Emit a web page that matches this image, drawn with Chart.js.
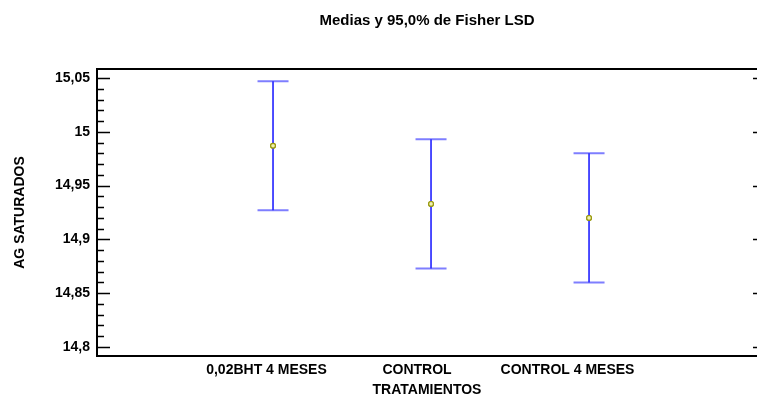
<!DOCTYPE html>
<html>
<head>
<meta charset="utf-8">
<script src="https://cdn.jsdelivr.net/npm/chart.js@4.4.1/dist/chart.umd.min.js"></script>
<style>
  html, body { margin: 0; padding: 0; background: #ffffff; }
  #wrap { width: 757px; height: 396px; }
</style>
</head>
<body>
<div id="wrap"><canvas id="c" width="757" height="396"></canvas></div>
<script>
// Treatments and their Fisher LSD intervals (95,0%)
const categories = ['0,02BHT 4 MESES', 'CONTROL', 'CONTROL 4 MESES'];
const means = [14.987, 14.933, 14.920];
const lower = [14.927, 14.873, 14.860];
const upper = [15.047, 14.993, 14.980];

// Y axis tick values and their labels
const yTickValues = [14.8, 14.85, 14.9, 14.95, 15.0, 15.05];
const yTickLabels = ['14,8', '14,85', '14,9', '14,95', '15', '15,05'];
const yMinorStep = 0.01;

const FONT = { family: '"Liberation Sans", Arial, sans-serif', size: 14, weight: 'bold' };

// Frame, ticks and I-shaped interval bars
const frameAndBars = {
  id: 'frameAndBars',
  afterDatasetsDraw(chart) {
    const { ctx, chartArea: a, scales } = chart;
    const x = scales.x, y = scales.y;
    ctx.save();

    // interval bars
    for (let i = 0; i < means.length; i++) {
      const px = x.getPixelForValue(i + 1);
      const pTop = y.getPixelForValue(upper[i]);
      const pBot = y.getPixelForValue(lower[i]);
      ctx.strokeStyle = '#2222ff';
      ctx.lineWidth = 1.6;
      ctx.beginPath();
      ctx.moveTo(px, pTop);
      ctx.lineTo(px, pBot);
      ctx.stroke();
      ctx.strokeStyle = 'rgba(40,40,255,0.6)';
      ctx.lineWidth = 2;
      ctx.beginPath();
      ctx.moveTo(px - 15.5, pTop); ctx.lineTo(px + 15.5, pTop);
      ctx.moveTo(px - 15.5, pBot); ctx.lineTo(px + 15.5, pBot);
      ctx.stroke();
    }
    // redraw the mean markers above the bars
    const meta = chart.getDatasetMeta(0);
    meta.data.forEach(el => el.draw(ctx, a));

    // frame: left, top and bottom
    ctx.strokeStyle = '#000';
    ctx.lineWidth = 2;
    ctx.beginPath();
    ctx.moveTo(a.right, a.top); ctx.lineTo(a.left, a.top);
    ctx.lineTo(a.left, a.bottom); ctx.lineTo(a.right, a.bottom);
    ctx.stroke();

    // left major/minor ticks and right major ticks
    ctx.lineWidth = 1.5;
    ctx.beginPath();
    const lo = yTickValues[0], hi = yTickValues[yTickValues.length - 1];
    const n = Math.round((hi - lo) / yMinorStep);
    for (let k = 0; k <= n; k++) {
      const v = lo + k * yMinorStep;
      const py = Math.round(y.getPixelForValue(v)) + 0.5;
      const major = k % 5 === 0;
      ctx.moveTo(a.left, py);
      ctx.lineTo(a.left + (major ? 13 : 7), py);
      if (major) {
        ctx.moveTo(a.right - 4, py);
        ctx.lineTo(a.right, py);
      }
    }
    ctx.stroke();
    ctx.restore();
  }
};

new Chart(document.getElementById('c'), {
  type: 'scatter',
  data: {
    datasets: [{
      data: means.map((m, i) => ({ x: i + 1, y: m })),
      pointStyle: 'circle',
      pointRadius: 2.4,
      pointBorderWidth: 1.2,
      pointBorderColor: '#9a9a10',
      pointBackgroundColor: '#f0f0b0'
    }]
  },
  options: {
    responsive: false,
    animation: false,
    events: [],
    layout: { autoPadding: false, padding: { left: 0, right: 0, top: 0, bottom: 0 } },
    plugins: {
      legend: { display: false },
      tooltip: { enabled: false },
      title: {
        display: true,
        fullSize: false,
        text: 'Medias y 95,0% de Fisher LSD',
        color: '#000',
        font: { family: FONT.family, size: 15, weight: 'bold' },
        padding: { top: 12, bottom: 39 }
      }
    },
    scales: {
      x: {
        type: 'linear',
        position: 'bottom',
        min: -0.114,
        max: 4.063,
        display: false
      },
      xl: {
        type: 'linear',
        position: 'bottom',
        min: -0.126,
        max: 4.259,
        afterBuildTicks(s) { s.ticks = categories.map((_, i) => ({ value: i + 1 })); },
        afterFit(s) { s.height = 40; s.paddingLeft = 0; s.paddingRight = 0; },
        border: { display: false },
        grid: { display: false, drawTicks: false },
        ticks: {
          color: '#000',
          font: FONT,
          padding: 6,
          maxRotation: 0,
          autoSkip: false,
          callback: (v) => categories[Math.round(v) - 1] || ''
        },
        title: {
          display: true,
          text: 'TRATAMIENTOS',
          color: '#000',
          font: FONT,
          padding: { top: 0, bottom: -3 }
        }
      },
      y: {
        type: 'linear',
        position: 'left',
        min: 14.7916,
        max: 15.0584,
        afterBuildTicks(s) { s.ticks = yTickValues.map(v => ({ value: v })); },
        afterFit(s) { s.width = 97; },
        border: { display: false },
        grid: { display: false, drawTicks: false },
        ticks: {
          color: '#000',
          font: FONT,
          padding: 7,
          callback: (v) => {
            const i = yTickValues.findIndex(t => Math.abs(t - v) < 1e-9);
            return i >= 0 ? yTickLabels[i] : '';
          }
        },
        title: {
          display: true,
          text: 'AG SATURADOS',
          color: '#000',
          font: FONT,
          padding: { top: 11.6, bottom: 0 }
        }
      }
    }
  },
  plugins: [frameAndBars]
});
</script>
</body>
</html>
